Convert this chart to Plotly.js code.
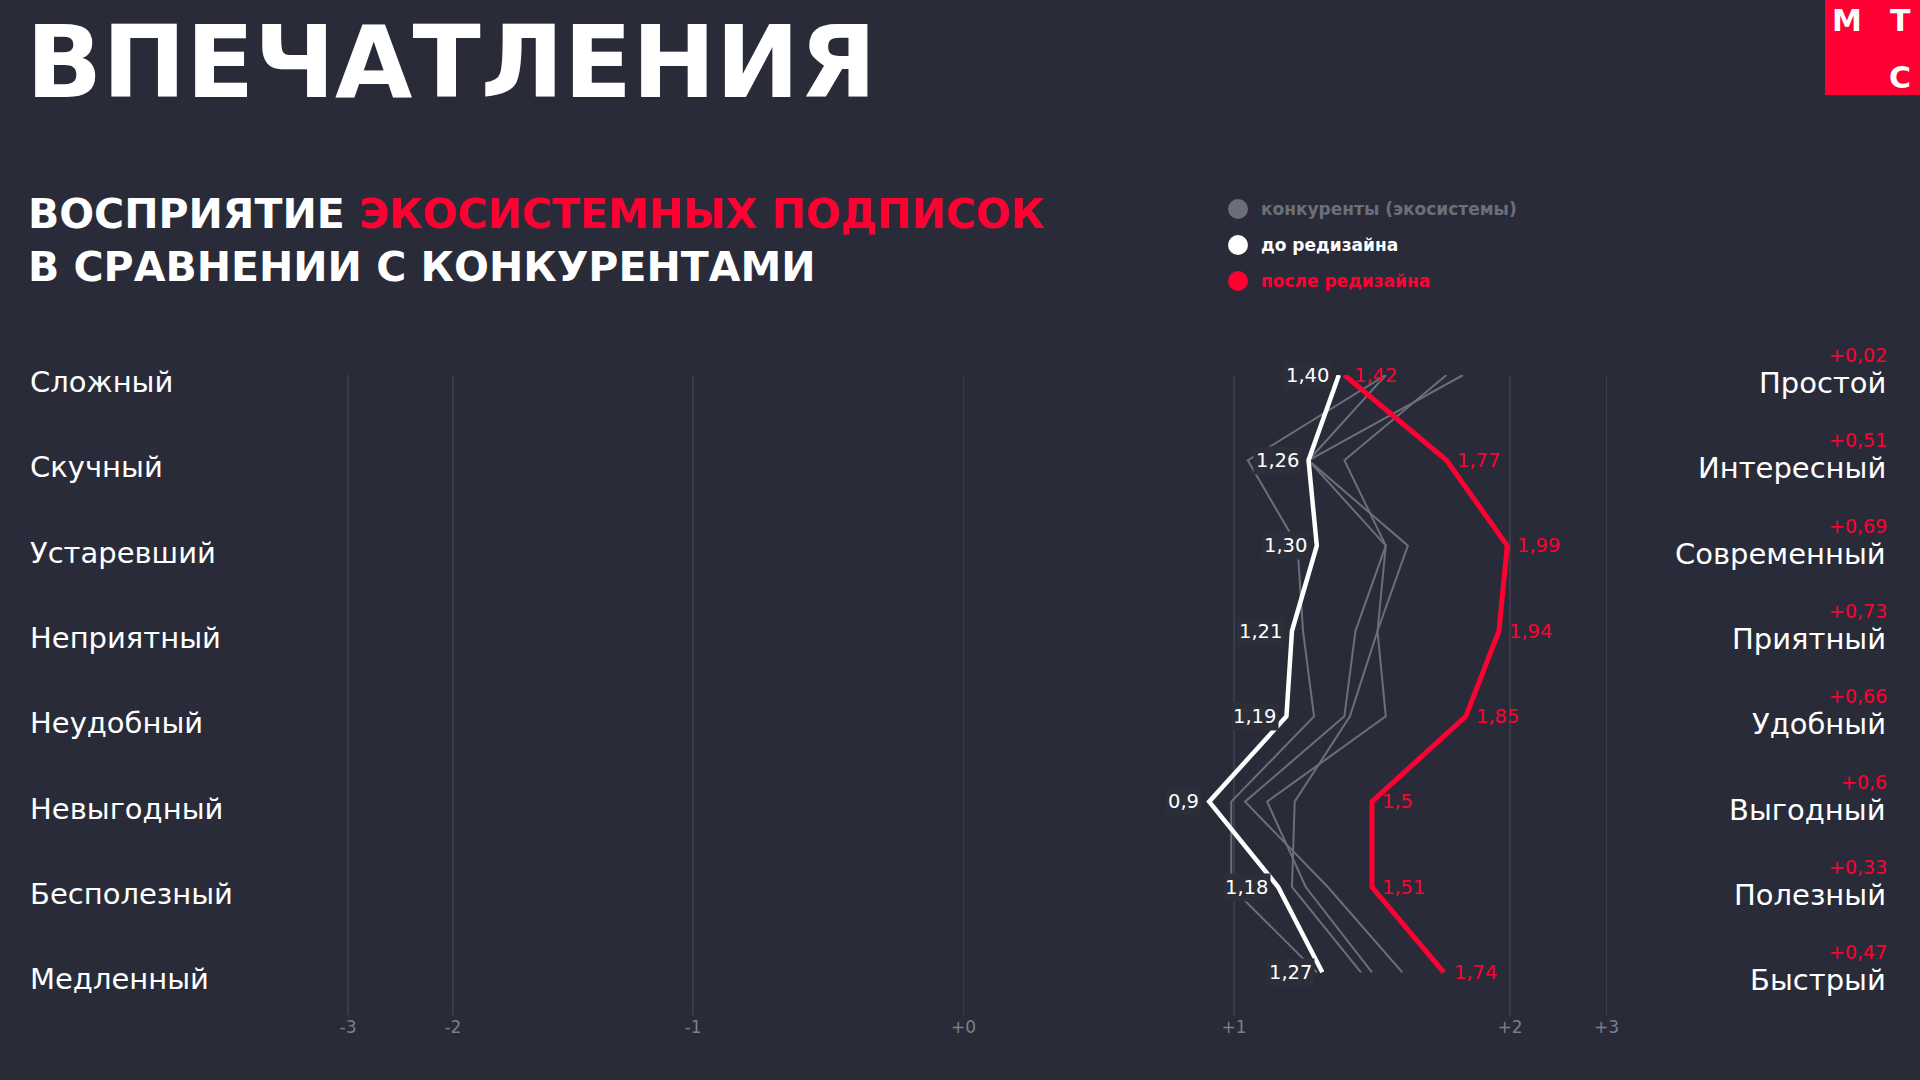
<!DOCTYPE html>
<html>
<head>
<meta charset="utf-8">
<script src="https://cdn.plot.ly/plotly-3.0.1.min.js"></script>
<style>
html,body{margin:0;padding:0;background:#292c38;overflow:hidden;}
#chart{width:1920px;height:1080px;}
</style>
</head>
<body>
<div id="chart"></div>
<script>
// ---- data ----
const categories = ['Сложный','Скучный','Устаревший','Неприятный','Неудобный','Невыгодный','Бесполезный','Медленный'];
const opposites  = ['Простой','Интересный','Современный','Приятный','Удобный','Выгодный','Полезный','Быстрый'];
const beforeValues = [1.38, 1.27, 1.30, 1.21, 1.19, 0.91, 1.16, 1.32];
const beforeLabels = ['1,40','1,26','1,30','1,21','1,19','0,9','1,18','1,27'];
const afterValues  = [1.40, 1.77, 1.99, 1.96, 1.84, 1.50, 1.50, 1.76];
const afterLabels  = ['1,42','1,77','1,99','1,94','1,85','1,5','1,51','1,74'];
const deltaLabels  = ['+0,02','+0,51','+0,69','+0,73','+0,66','+0,6','+0,33','+0,47'];
const competitorA = [1.55, 1.05, 1.23, 1.25, 1.29, 0.99, 0.99, 1.30];
const competitorB = [1.55, 1.27, 1.55, 1.44, 1.40, 1.04, 1.34, 1.61];
const competitorC = [1.83, 1.27, 1.63, 1.52, 1.42, 1.22, 1.21, 1.46];
const competitorD = [1.77, 1.40, 1.55, 1.52, 1.55, 1.12, 1.26, 1.50];
const competitors = [competitorA, competitorB, competitorC, competitorD];
const tickPositions = [-2.21, -1.83, -0.96, 0.02, 1, 2, 2.35];
const tickLabels = ['-3','-2','-1','+0','+1','+2','+3'];
const legendNames = ['конкуренты (экосистемы)','до редизайна','после редизайна'];

// ---- style ----
const BG = '#292c38';
const RED = '#ff0032';
const GRAY = '#6c6f7a';
const FONT = 'DejaVu Sans';
const W = 1920, H = 1080, TOP = 375, BOTTOM = 1015;
const px = x => x / W;
const py = y => 1 + (TOP - y) / (BOTTOM - TOP);

const traces = [];
competitors.forEach((vals) => {
  traces.push({
    type: 'scatter', mode: 'lines', x: vals, y: categories,
    line: {color: GRAY, width: 2}, showlegend: false, cliponaxis: false, hoverinfo: 'skip'
  });
});
traces.push({
  type: 'scatter', mode: 'lines', x: beforeValues, y: categories,
  line: {color: '#ffffff', width: 4.5}, showlegend: false, cliponaxis: false
});
traces.push({
  type: 'scatter', mode: 'lines', x: afterValues, y: categories,
  line: {color: RED, width: 5}, showlegend: false, cliponaxis: false
});

const annotations = [];
const shapes = [];
categories.forEach((c, i) => {
  annotations.push({xref: 'paper', yref: 'y', x: px(28), y: c, xanchor: 'left', yanchor: 'middle',
    yshift: -7, text: c, showarrow: false, font: {family: FONT, size: 29, color: '#ffffff'}});
  annotations.push({xref: 'paper', yref: 'y', x: px(1888), y: c, xanchor: 'right', yanchor: 'middle',
    yshift: -8, text: opposites[i], showarrow: false, font: {family: FONT, size: 29, color: '#ffffff'}});
  annotations.push({xref: 'paper', yref: 'y', x: px(1889), y: c, xanchor: 'right', yanchor: 'middle',
    yshift: 20, text: deltaLabels[i], showarrow: false, font: {family: FONT, size: 19, color: RED}});
  annotations.push({xref: 'x', yref: 'y', x: beforeValues[i], y: c, xanchor: 'right', yanchor: 'middle',
    xshift: -7, text: beforeLabels[i], showarrow: false, bgcolor: '#2c2f39', borderpad: 2,
    font: {family: FONT, size: 19.5, color: '#ffffff'}});
  annotations.push({xref: 'x', yref: 'y', x: afterValues[i], y: c, xanchor: 'left', yanchor: 'middle',
    xshift: 8, text: afterLabels[i], showarrow: false,
    font: {family: FONT, size: 19.5, color: RED}});
});
// titles
annotations.push({xref: 'paper', yref: 'paper', x: px(24), y: py(62), xanchor: 'left', yanchor: 'middle',
  text: '<b>ВПЕЧАТЛЕНИЯ</b>', showarrow: false, font: {family: FONT, size: 100, color: '#ffffff'}});
annotations.push({xref: 'paper', yref: 'paper', x: px(26), y: py(240), xanchor: 'left', yanchor: 'middle', align: 'left',
  text: '<b>ВОСПРИЯТИЕ <span style="color:' + RED + '">ЭКОСИСТЕМНЫХ ПОДПИСОК</span><br>В СРАВНЕНИИ С КОНКУРЕНТАМИ</b>',
  showarrow: false, font: {family: FONT, size: 41, color: '#ffffff'}});
// legend (circles + text)
const legendColors = [GRAY, '#ffffff', RED];
const legendY = [209, 245, 281];
legendNames.forEach((n, i) => {
  shapes.push({type: 'circle', xref: 'paper', yref: 'paper', xsizemode: 'pixel', ysizemode: 'pixel',
    xanchor: px(1238), yanchor: py(legendY[i]), x0: -10, x1: 10, y0: -10, y1: 10,
    fillcolor: legendColors[i], line: {width: 0}});
  annotations.push({xref: 'paper', yref: 'paper', x: px(1259), y: py(legendY[i]), xanchor: 'left', yanchor: 'middle',
    text: '<b>' + n + '</b>', showarrow: false, font: {family: FONT, size: 17, color: legendColors[i]}});
});
// logo
shapes.push({type: 'rect', xref: 'paper', yref: 'paper', x0: px(1825), x1: 1, y0: py(95), y1: py(0),
  fillcolor: RED, line: {width: 0}, layer: 'above'});
annotations.push({xref: 'paper', yref: 'paper', x: px(1847), y: py(20), xanchor: 'center', yanchor: 'middle',
  text: '<b>М</b>', showarrow: false, font: {family: FONT, size: 30, color: '#ffffff'}});
annotations.push({xref: 'paper', yref: 'paper', x: px(1900), y: py(20), xanchor: 'center', yanchor: 'middle',
  text: '<b>Т</b>', showarrow: false, font: {family: FONT, size: 30, color: '#ffffff'}});
annotations.push({xref: 'paper', yref: 'paper', x: px(1900), y: py(77), xanchor: 'center', yanchor: 'middle',
  text: '<b>С</b>', showarrow: false, font: {family: FONT, size: 30, color: '#ffffff'}});

const layout = {
  width: W, height: H,
  paper_bgcolor: BG, plot_bgcolor: BG,
  margin: {l: 0, r: 0, t: TOP, b: H - BOTTOM, pad: 0},
  font: {family: FONT, color: '#ffffff'},
  xaxis: {
    range: [1 - 1234 / 276, 1 - 1234 / 276 + W / 276],
    tickmode: 'array', tickvals: tickPositions, ticktext: tickLabels,
    showgrid: true, gridcolor: '#3a3d49', gridwidth: 1.5, zeroline: false, showline: false,
    ticks: '', ticklen: 0, tickfont: {family: FONT, size: 17, color: '#7c7f8a'}, fixedrange: true
  },
  yaxis: {
    type: 'category', categoryarray: categories, categoryorder: 'array',
    range: [7.5, 0], showgrid: false, zeroline: false, showticklabels: false, showline: false, fixedrange: true
  },
  showlegend: false,
  annotations: annotations,
  shapes: shapes,
  hovermode: false
};

Plotly.newPlot('chart', traces, layout, {staticPlot: true, displayModeBar: false});
</script>
</body>
</html>
